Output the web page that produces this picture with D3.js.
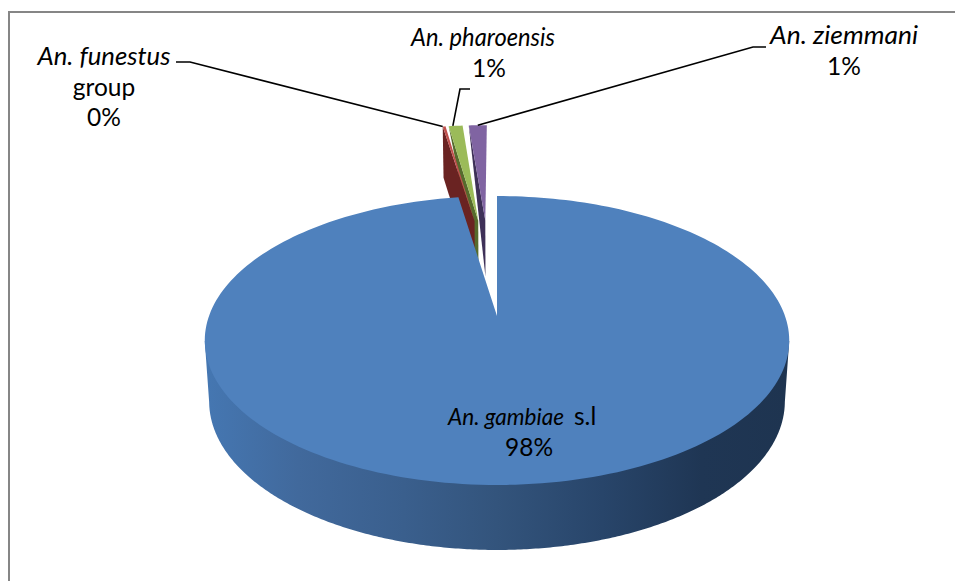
<!DOCTYPE html>
<html>
<head>
<meta charset="utf-8">
<script src="https://cdn.jsdelivr.net/npm/d3@7/dist/d3.min.js"></script>
<style>
html,body{margin:0;padding:0;background:#fff;}
svg{display:block;}
text{font-family:Lato,"Open Sans",sans-serif;font-size:24.5px;fill:#000;text-anchor:middle;}
</style>
</head>
<body>
<div id="chart"></div>
<script>
// Species share of Anopheles collected
const species = ["An. gambiae", "An. funestus", "An. pharoensis", "An. ziemmani"];
const speciesSuffix = ["s.l", "", "", ""];
const secondLine = ["", "group", "", ""];
const shares = [97.5, 0.2, 1.0, 1.3];
const faceColors = ["#4f81bd", "#c0504d", "#9bbb59", "#8064a2"];
const wallColors = ["#35587f", "#6a2322", "#566b2d", "#3e3058"];

const width = 955, height = 581;
const svg = d3.select("#chart").append("svg").attr("width", width).attr("height", height);

// Tilted-disc projection: plane coordinates (unit radius) to screen pixels
const originX = 497, originY = 316, radiusX = 288, radiusY = 140.3, tilt = -0.1696;
const project = (x, y) => {
  const w = 1 + tilt * y;
  return [originX + radiusX * x / w, originY + radiusY * y / w];
};
// Wall height grows toward the viewer; the underside sits slightly farther away
const wallHeight = y => 60 + 5 * y;
const undersideScale = 0.985;
const lower = (x, y) => {
  const p = project(x, y);
  return [originX + (p[0] - originX) * undersideScale, p[1] + wallHeight(y)];
};

const pie = d3.pie().sort(null).value(d => d).startAngle(0).endAngle(2 * Math.PI);
const arcs = pie(shares);

// Every slice is pulled out of the common centre by the same amount
const explode = 0.385;
const mid = a => (a.startAngle + a.endAngle) / 2;
const centre0 = [-explode * Math.sin(mid(arcs[0])), explode * Math.cos(mid(arcs[0]))];
const apexes = arcs.map(a => [
  centre0[0] + explode * Math.sin(mid(a)),
  centre0[1] - explode * Math.cos(mid(a))
]);
const rimPoint = (i, angle) => [apexes[i][0] + Math.sin(angle), apexes[i][1] - Math.cos(angle)];
const anglesBetween = (a0, a1, n) => d3.range(n + 1).map(k => a0 + (a1 - a0) * k / n);
const line = d3.line();
const poly = pts => line(pts) + "Z";

// Side gradient of the large slice
const defs = svg.append("defs");
const grad = defs.append("linearGradient").attr("id", "wall")
  .attr("gradientUnits", "userSpaceOnUse")
  .attr("x1", 205).attr("x2", 789).attr("y1", 0).attr("y2", 0);
[[0, "#4577b2"], [0.16, "#41699c"], [0.34, "#3a5f8d"], [0.5, "#33547c"],
 [0.68, "#28456a"], [0.85, "#1f3654"], [1, "#1e3450"]].forEach(s =>
  grad.append("stop").attr("offset", s[0]).attr("stop-color", s[1]));

// Chart frame, open at the right and bottom edges of the page
svg.append("path")
  .attr("d", "M9," + height + "V12H" + width)
  .attr("fill", "none").attr("stroke", "#868686").attr("stroke-width", 2);

// Small pulled-out slices, back to front
[3, 2, 1].forEach(i => {
  const a = arcs[i];
  const apex = apexes[i];
  const outerLeft = rimPoint(i, a.startAngle);
  const apexTop = project(apex[0], apex[1]);
  const apexLow = lower(apex[0], apex[1]);
  const leftTop = project(outerLeft[0], outerLeft[1]);
  const wallPts = [leftTop, apexTop, apexLow];
  if (i === 1) wallPts.push(lower(outerLeft[0], outerLeft[1]));
  svg.append("path").attr("d", poly(wallPts)).attr("fill", wallColors[i]);
  const rim = anglesBetween(a.startAngle, a.endAngle, 6)
    .map(t => { const p = rimPoint(i, t); return project(p[0], p[1]); });
  svg.append("path").attr("d", poly([apexTop].concat(rim))).attr("fill", faceColors[i]);
});

// Large slice: curved wall between the side extremes of the rim, then its top face
const big = arcs[0];
const sweep = anglesBetween(0, 2 * Math.PI, 720);
const rimAll = sweep.map(t => { const p = rimPoint(0, t); return project(p[0], p[1]); });
const lowAll = sweep.map(t => { const p = rimPoint(0, t); return lower(p[0], p[1]); });
const rimRight = d3.greatestIndex(rimAll, p => p[0]);
const rimLeft = d3.leastIndex(rimAll, p => p[0]);
const lowRight = d3.greatestIndex(lowAll, p => p[0]);
const lowLeft = d3.leastIndex(lowAll, p => p[0]);
const wallOutline = [rimAll[rimRight]]
  .concat(lowAll.slice(lowRight, lowLeft + 1))
  .concat([rimAll[rimLeft]]);
svg.append("path").attr("d", poly(wallOutline)).attr("fill", "url(#wall)");

const topRim = anglesBetween(big.startAngle, big.endAngle, 240)
  .map(t => { const p = rimPoint(0, t); return project(p[0], p[1]); });
svg.append("path")
  .attr("d", poly([project(apexes[0][0], apexes[0][1])].concat(topRim)))
  .attr("fill", faceColors[0]);

// Leader lines from the labels to the slice rims
const leaderStart = [null, [[176, 62], [190, 62]], [[470, 89], [460, 89]], [[766, 47], [753, 47]]];
const leaderShare = [null, 0, 0.3, 0.5];
[1, 2, 3].forEach(i => {
  const a = arcs[i];
  const p = rimPoint(i, a.startAngle + (a.endAngle - a.startAngle) * leaderShare[i]);
  const end = project(p[0], p[1]);
  svg.append("path")
    .attr("d", line(leaderStart[i].concat([end])))
    .attr("fill", "none").attr("stroke", "#000").attr("stroke-width", 1.6);
});

// Labels: the italic name, an optional upright suffix, extra line, percentage
const pct = v => d3.format(".0f")(v) + "%";
const labelX = [529, 104, 483, 844];
const labelY = [425, 65, 46, 44];
const nameX = [506, 104, 483, 844];
const nameWidth = [116, 133, 144, 148];
const nameSize = [22.5, 24.5, 24.5, 24.5];
const suffixX = 574;
const lineStep = 30.5;
arcs.forEach((a, i) => {
  const g = svg.append("g");
  g.append("text").attr("x", nameX[i]).attr("y", labelY[i])
    .attr("font-style", "italic")
    .style("font-size", nameSize[i] + "px")
    .attr("textLength", nameWidth[i]).attr("lengthAdjust", "spacingAndGlyphs")
    .text(species[i]);
  if (speciesSuffix[i]) {
    g.append("text").attr("x", suffixX).attr("y", labelY[i])
      .style("text-anchor", "start").text(speciesSuffix[i]);
  }
  let row = 1;
  if (secondLine[i]) {
    g.append("text").attr("x", labelX[i]).attr("y", labelY[i] + lineStep * row).text(secondLine[i]);
    row++;
  }
  g.append("text")
    .attr("x", i === 2 ? labelX[i] + 6 : labelX[i])
    .attr("y", labelY[i] + lineStep * row)
    .text(pct(shares[i]));
});
</script>
</body>
</html>
